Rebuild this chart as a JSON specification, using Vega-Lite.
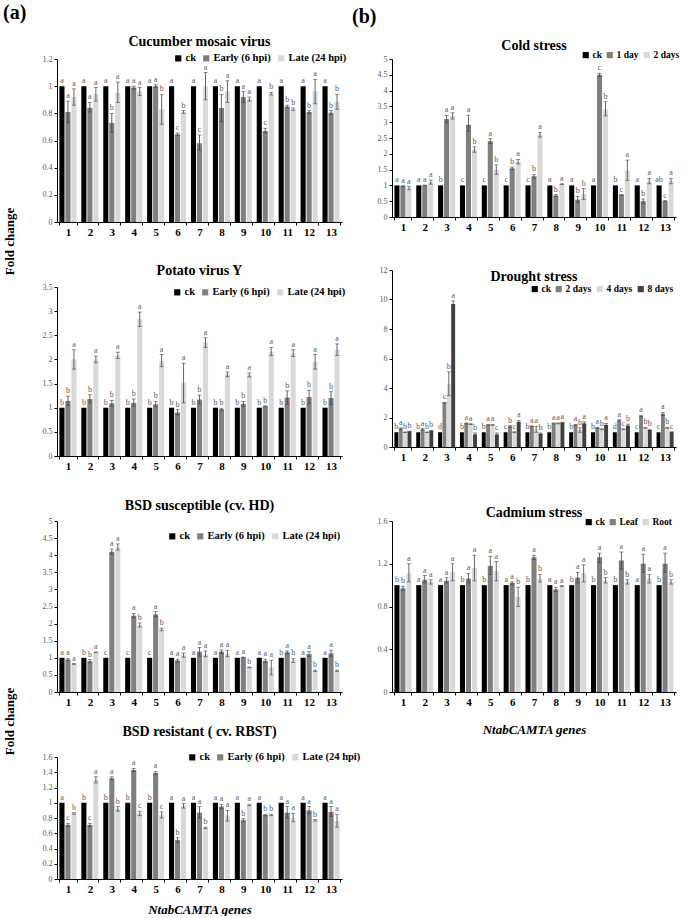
{
"$schema": "https://vega.github.io/schema/vega-lite/v6.json",
"padding": {"left": 3, "top": 3, "right": 2, "bottom": 0},
"config": {
 "font": "Liberation Serif",
 "view": {"stroke": null},
 "axis": {"grid": false, "domainColor": "#000000", "tickColor": "#000000", "labelColor": "#595959", "labelFontSize": 8, "titleColor": "#000000", "labelFont": "Liberation Serif", "titleFont": "Liberation Serif"},
 "axisX": {"labelFontSize": 11, "labelFontWeight": "bold", "labelColor": "#000000", "labelAngle": 0, "tickBand": "extent", "tickSize": 3, "labelPadding": 1, "titleFontSize": 13, "titleFontWeight": "bold", "titleFontStyle": "italic"},
 "axisY": {"tickSize": 3, "labelPadding": 2, "labelOverlap": false},
 "title": {"fontSize": 14, "fontWeight": "bold", "color": "#000000", "anchor": "middle", "font": "Liberation Serif"},
 "text": {"font": "Liberation Serif"},
 "legend": {"orient": "none", "direction": "horizontal", "labelFont": "Liberation Serif", "labelFontSize": 10.5, "labelFontWeight": "bold", "labelColor": "#000000", "symbolType": "square", "symbolSize": 38, "columnPadding": 5, "padding": 0, "symbolStrokeWidth": 0, "labelOffset": 2}
},
"datasets": {
"cmv": [
{"g":1,"t":"ck","v":1,"lo":1,"hi":1,"l":"a"},{"g":1,"t":"Early (6 hpi)","v":0.81,"lo":0.73,"hi":0.89,"l":"a"},{"g":1,"t":"Late (24 hpi)","v":0.92,"lo":0.86,"hi":0.98,"l":"a"},
{"g":2,"t":"ck","v":1,"lo":1,"hi":1,"l":"a"},{"g":2,"t":"Early (6 hpi)","v":0.84,"lo":0.81,"hi":0.88,"l":"a"},{"g":2,"t":"Late (24 hpi)","v":0.94,"lo":0.89,"hi":0.99,"l":"a"},
{"g":3,"t":"ck","v":1,"lo":1,"hi":1,"l":"a"},{"g":3,"t":"Early (6 hpi)","v":0.73,"lo":0.66,"hi":0.8,"l":"b"},{"g":3,"t":"Late (24 hpi)","v":0.95,"lo":0.88,"hi":1.03,"l":"a"},
{"g":4,"t":"ck","v":1,"lo":1,"hi":1,"l":"a"},{"g":4,"t":"Early (6 hpi)","v":0.99,"lo":0.98,"hi":1.0,"l":"a"},{"g":4,"t":"Late (24 hpi)","v":0.96,"lo":0.93,"hi":0.99,"l":"a"},
{"g":5,"t":"ck","v":1,"lo":1,"hi":1,"l":"a"},{"g":5,"t":"Early (6 hpi)","v":1.0,"lo":0.99,"hi":1.01,"l":"a"},{"g":5,"t":"Late (24 hpi)","v":0.83,"lo":0.72,"hi":0.94,"l":"b"},
{"g":6,"t":"ck","v":1,"lo":1,"hi":1,"l":"a"},{"g":6,"t":"Early (6 hpi)","v":0.645,"lo":0.635,"hi":0.655,"l":"c"},{"g":6,"t":"Late (24 hpi)","v":0.81,"lo":0.8,"hi":0.82,"l":"b"},
{"g":7,"t":"ck","v":1,"lo":1,"hi":1,"l":"a"},{"g":7,"t":"Early (6 hpi)","v":0.58,"lo":0.53,"hi":0.64,"l":"c"},{"g":7,"t":"Late (24 hpi)","v":1.0,"lo":0.9,"hi":1.1,"l":"a"},
{"g":8,"t":"ck","v":1,"lo":1,"hi":1,"l":"a"},{"g":8,"t":"Early (6 hpi)","v":0.84,"lo":0.74,"hi":0.94,"l":"b"},{"g":8,"t":"Late (24 hpi)","v":0.96,"lo":0.88,"hi":1.04,"l":"a"},
{"g":9,"t":"ck","v":1,"lo":1,"hi":1,"l":"a"},{"g":9,"t":"Early (6 hpi)","v":0.92,"lo":0.88,"hi":0.96,"l":"a"},{"g":9,"t":"Late (24 hpi)","v":0.905,"lo":0.89,"hi":0.92,"l":"a"},
{"g":10,"t":"ck","v":1,"lo":1,"hi":1,"l":"a"},{"g":10,"t":"Early (6 hpi)","v":0.67,"lo":0.655,"hi":0.69,"l":"c"},{"g":10,"t":"Late (24 hpi)","v":0.945,"lo":0.935,"hi":0.955,"l":"b"},
{"g":11,"t":"ck","v":1,"lo":1,"hi":1,"l":"a"},{"g":11,"t":"Early (6 hpi)","v":0.85,"lo":0.84,"hi":0.86,"l":"b"},{"g":11,"t":"Late (24 hpi)","v":0.83,"lo":0.82,"hi":0.84,"l":"b"},
{"g":12,"t":"ck","v":1,"lo":1,"hi":1,"l":"a"},{"g":12,"t":"Early (6 hpi)","v":0.81,"lo":0.8,"hi":0.82,"l":"b"},{"g":12,"t":"Late (24 hpi)","v":0.96,"lo":0.87,"hi":1.05,"l":"a"},
{"g":13,"t":"ck","v":1,"lo":1,"hi":1,"l":"a"},{"g":13,"t":"Early (6 hpi)","v":0.805,"lo":0.79,"hi":0.82,"l":"b"},{"g":13,"t":"Late (24 hpi)","v":0.885,"lo":0.83,"hi":0.94,"l":"b"}
],
"pvy": [
{"g":1,"t":"ck","v":1,"lo":1,"hi":1,"l":"b"},{"g":1,"t":"Early (6 hpi)","v":1.14,"lo":1.05,"hi":1.24,"l":"b"},{"g":1,"t":"Late (24 hpi)","v":2.0,"lo":1.8,"hi":2.2,"l":"a"},
{"g":2,"t":"ck","v":1,"lo":1,"hi":1,"l":"b"},{"g":2,"t":"Early (6 hpi)","v":1.18,"lo":1.1,"hi":1.27,"l":"b"},{"g":2,"t":"Late (24 hpi)","v":2.0,"lo":1.93,"hi":2.07,"l":"a"},
{"g":3,"t":"ck","v":1,"lo":1,"hi":1,"l":"b"},{"g":3,"t":"Early (6 hpi)","v":1.09,"lo":1.03,"hi":1.15,"l":"b"},{"g":3,"t":"Late (24 hpi)","v":2.08,"lo":2.02,"hi":2.15,"l":"a"},
{"g":4,"t":"ck","v":1,"lo":1,"hi":1,"l":"b"},{"g":4,"t":"Early (6 hpi)","v":1.1,"lo":1.03,"hi":1.18,"l":"b"},{"g":4,"t":"Late (24 hpi)","v":2.83,"lo":2.68,"hi":2.98,"l":"a"},
{"g":5,"t":"ck","v":1,"lo":1,"hi":1,"l":"b"},{"g":5,"t":"Early (6 hpi)","v":1.07,"lo":1.02,"hi":1.13,"l":"b"},{"g":5,"t":"Late (24 hpi)","v":1.97,"lo":1.85,"hi":2.1,"l":"a"},
{"g":6,"t":"ck","v":1,"lo":1,"hi":1,"l":"b"},{"g":6,"t":"Early (6 hpi)","v":0.9,"lo":0.85,"hi":0.96,"l":"b"},{"g":6,"t":"Late (24 hpi)","v":1.52,"lo":1.1,"hi":1.92,"l":"a"},
{"g":7,"t":"ck","v":1,"lo":1,"hi":1,"l":"b"},{"g":7,"t":"Early (6 hpi)","v":1.17,"lo":1.08,"hi":1.26,"l":"b"},{"g":7,"t":"Late (24 hpi)","v":2.35,"lo":2.25,"hi":2.45,"l":"a"},
{"g":8,"t":"ck","v":1,"lo":1,"hi":1,"l":"b"},{"g":8,"t":"Early (6 hpi)","v":0.97,"lo":0.95,"hi":0.99,"l":"b"},{"g":8,"t":"Late (24 hpi)","v":1.69,"lo":1.64,"hi":1.74,"l":"a"},
{"g":9,"t":"ck","v":1,"lo":1,"hi":1,"l":"b"},{"g":9,"t":"Early (6 hpi)","v":1.08,"lo":1.03,"hi":1.13,"l":"b"},{"g":9,"t":"Late (24 hpi)","v":1.68,"lo":1.64,"hi":1.72,"l":"a"},
{"g":10,"t":"ck","v":1,"lo":1,"hi":1,"l":"b"},{"g":10,"t":"Early (6 hpi)","v":1.03,"lo":1.02,"hi":1.04,"l":"b"},{"g":10,"t":"Late (24 hpi)","v":2.16,"lo":2.08,"hi":2.25,"l":"a"},
{"g":11,"t":"ck","v":1,"lo":1,"hi":1,"l":"b"},{"g":11,"t":"Early (6 hpi)","v":1.21,"lo":1.07,"hi":1.35,"l":"b"},{"g":11,"t":"Late (24 hpi)","v":2.13,"lo":2.06,"hi":2.2,"l":"a"},
{"g":12,"t":"ck","v":1,"lo":1,"hi":1,"l":"b"},{"g":12,"t":"Early (6 hpi)","v":1.22,"lo":1.08,"hi":1.36,"l":"b"},{"g":12,"t":"Late (24 hpi)","v":1.95,"lo":1.8,"hi":2.1,"l":"a"},
{"g":13,"t":"ck","v":1,"lo":1,"hi":1,"l":"b"},{"g":13,"t":"Early (6 hpi)","v":1.2,"lo":1.07,"hi":1.33,"l":"b"},{"g":13,"t":"Late (24 hpi)","v":2.2,"lo":2.08,"hi":2.32,"l":"a"}
],
"bsds": [
{"g":1,"t":"ck","v":1,"lo":1,"hi":1,"l":"a"},{"g":1,"t":"Early (6 hpi)","v":0.95,"lo":0.92,"hi":0.98,"l":"a"},{"g":1,"t":"Late (24 hpi)","v":0.82,"lo":0.81,"hi":0.83,"l":"a"},
{"g":2,"t":"ck","v":1,"lo":1,"hi":1,"l":"b"},{"g":2,"t":"Early (6 hpi)","v":0.9,"lo":0.85,"hi":0.95,"l":"b"},{"g":2,"t":"Late (24 hpi)","v":1.16,"lo":1.15,"hi":1.17,"l":"a"},
{"g":3,"t":"ck","v":1,"lo":1,"hi":1,"l":"c"},{"g":3,"t":"Early (6 hpi)","v":4.1,"lo":4.03,"hi":4.18,"l":"a"},{"g":3,"t":"Late (24 hpi)","v":4.23,"lo":4.15,"hi":4.33,"l":"a"},
{"g":4,"t":"ck","v":1,"lo":1,"hi":1,"l":"c"},{"g":4,"t":"Early (6 hpi)","v":2.23,"lo":2.17,"hi":2.3,"l":"a"},{"g":4,"t":"Late (24 hpi)","v":1.95,"lo":1.9,"hi":2.02,"l":"b"},
{"g":5,"t":"ck","v":1,"lo":1,"hi":1,"l":"c"},{"g":5,"t":"Early (6 hpi)","v":2.27,"lo":2.2,"hi":2.35,"l":"a"},{"g":5,"t":"Late (24 hpi)","v":1.83,"lo":1.79,"hi":1.87,"l":"b"},
{"g":6,"t":"ck","v":1,"lo":1,"hi":1,"l":"a"},{"g":6,"t":"Early (6 hpi)","v":0.92,"lo":0.88,"hi":0.96,"l":"a"},{"g":6,"t":"Late (24 hpi)","v":1.08,"lo":1.02,"hi":1.14,"l":"a"},
{"g":7,"t":"ck","v":1,"lo":1,"hi":1,"l":"a"},{"g":7,"t":"Early (6 hpi)","v":1.18,"lo":1.05,"hi":1.3,"l":"a"},{"g":7,"t":"Late (24 hpi)","v":1.1,"lo":1.03,"hi":1.2,"l":"a"},
{"g":8,"t":"ck","v":1,"lo":1,"hi":1,"l":"a"},{"g":8,"t":"Early (6 hpi)","v":1.18,"lo":1.13,"hi":1.23,"l":"a"},{"g":8,"t":"Late (24 hpi)","v":1.12,"lo":1.03,"hi":1.22,"l":"a"},
{"g":9,"t":"ck","v":1,"lo":1,"hi":1,"l":"a"},{"g":9,"t":"Early (6 hpi)","v":1.01,"lo":1.0,"hi":1.02,"l":"a"},{"g":9,"t":"Late (24 hpi)","v":0.72,"lo":0.71,"hi":0.73,"l":"b"},
{"g":10,"t":"ck","v":1,"lo":1,"hi":1,"l":"a"},{"g":10,"t":"Early (6 hpi)","v":0.91,"lo":0.86,"hi":0.96,"l":"a"},{"g":10,"t":"Late (24 hpi)","v":0.72,"lo":0.5,"hi":0.93,"l":"a"},
{"g":11,"t":"ck","v":1,"lo":1,"hi":1,"l":"b"},{"g":11,"t":"Early (6 hpi)","v":1.16,"lo":1.12,"hi":1.2,"l":"a"},{"g":11,"t":"Late (24 hpi)","v":0.92,"lo":0.86,"hi":0.98,"l":"b"},
{"g":12,"t":"ck","v":1,"lo":1,"hi":1,"l":"a"},{"g":12,"t":"Early (6 hpi)","v":1.11,"lo":1.04,"hi":1.18,"l":"a"},{"g":12,"t":"Late (24 hpi)","v":0.62,"lo":0.6,"hi":0.64,"l":"b"},
{"g":13,"t":"ck","v":1,"lo":1,"hi":1,"l":"a"},{"g":13,"t":"Early (6 hpi)","v":1.13,"lo":1.05,"hi":1.22,"l":"a"},{"g":13,"t":"Late (24 hpi)","v":0.62,"lo":0.6,"hi":0.64,"l":"b"}
],
"bsdr": [
{"g":1,"t":"ck","v":1,"lo":1,"hi":1,"l":"a"},{"g":1,"t":"Early (6 hpi)","v":0.71,"lo":0.69,"hi":0.73,"l":"c"},{"g":1,"t":"Late (24 hpi)","v":0.86,"lo":0.85,"hi":0.87,"l":"b"},
{"g":2,"t":"ck","v":1,"lo":1,"hi":1,"l":"b"},{"g":2,"t":"Early (6 hpi)","v":0.71,"lo":0.69,"hi":0.73,"l":"c"},{"g":2,"t":"Late (24 hpi)","v":1.3,"lo":1.26,"hi":1.34,"l":"a"},
{"g":3,"t":"ck","v":1,"lo":1,"hi":1,"l":"b"},{"g":3,"t":"Early (6 hpi)","v":1.32,"lo":1.3,"hi":1.34,"l":"a"},{"g":3,"t":"Late (24 hpi)","v":0.92,"lo":0.89,"hi":0.95,"l":"b"},
{"g":4,"t":"ck","v":1,"lo":1,"hi":1,"l":"b"},{"g":4,"t":"Early (6 hpi)","v":1.43,"lo":1.41,"hi":1.45,"l":"a"},{"g":4,"t":"Late (24 hpi)","v":0.86,"lo":0.83,"hi":0.89,"l":"c"},
{"g":5,"t":"ck","v":1,"lo":1,"hi":1,"l":"b"},{"g":5,"t":"Early (6 hpi)","v":1.39,"lo":1.37,"hi":1.41,"l":"a"},{"g":5,"t":"Late (24 hpi)","v":0.84,"lo":0.8,"hi":0.88,"l":"c"},
{"g":6,"t":"ck","v":1,"lo":1,"hi":1,"l":"a"},{"g":6,"t":"Early (6 hpi)","v":0.51,"lo":0.48,"hi":0.54,"l":"b"},{"g":6,"t":"Late (24 hpi)","v":0.96,"lo":0.93,"hi":0.99,"l":"a"},
{"g":7,"t":"ck","v":1,"lo":1,"hi":1,"l":"a"},{"g":7,"t":"Early (6 hpi)","v":0.87,"lo":0.8,"hi":0.95,"l":"a"},{"g":7,"t":"Late (24 hpi)","v":0.67,"lo":0.66,"hi":0.68,"l":"b"},
{"g":8,"t":"ck","v":1,"lo":1,"hi":1,"l":"a"},{"g":8,"t":"Early (6 hpi)","v":0.95,"lo":0.92,"hi":0.98,"l":"a"},{"g":8,"t":"Late (24 hpi)","v":0.83,"lo":0.76,"hi":0.9,"l":"a"},
{"g":9,"t":"ck","v":1,"lo":1,"hi":1,"l":"a"},{"g":9,"t":"Early (6 hpi)","v":0.77,"lo":0.75,"hi":0.79,"l":"b"},{"g":9,"t":"Late (24 hpi)","v":0.97,"lo":0.96,"hi":0.98,"l":"a"},
{"g":10,"t":"ck","v":1,"lo":1,"hi":1,"l":"a"},{"g":10,"t":"Early (6 hpi)","v":0.84,"lo":0.83,"hi":0.85,"l":"b"},{"g":10,"t":"Late (24 hpi)","v":0.84,"lo":0.83,"hi":0.85,"l":"b"},
{"g":11,"t":"ck","v":1,"lo":1,"hi":1,"l":"a"},{"g":11,"t":"Early (6 hpi)","v":0.87,"lo":0.8,"hi":0.95,"l":"a"},{"g":11,"t":"Late (24 hpi)","v":0.8,"lo":0.75,"hi":0.86,"l":"a"},
{"g":12,"t":"ck","v":1,"lo":1,"hi":1,"l":"a"},{"g":12,"t":"Early (6 hpi)","v":0.9,"lo":0.86,"hi":0.95,"l":"a"},{"g":12,"t":"Late (24 hpi)","v":0.77,"lo":0.76,"hi":0.78,"l":"b"},
{"g":13,"t":"ck","v":1,"lo":1,"hi":1,"l":"a"},{"g":13,"t":"Early (6 hpi)","v":0.88,"lo":0.82,"hi":0.95,"l":"a"},{"g":13,"t":"Late (24 hpi)","v":0.76,"lo":0.68,"hi":0.85,"l":"a"}
],
"cold": [
{"g":1,"t":"ck","v":1,"lo":1,"hi":1,"l":"a"},{"g":1,"t":"1 day","v":0.98,"lo":0.97,"hi":0.99,"l":"a"},{"g":1,"t":"2 days","v":0.91,"lo":0.86,"hi":0.96,"l":"a"},
{"g":2,"t":"ck","v":1,"lo":1,"hi":1,"l":"a"},{"g":2,"t":"1 day","v":1.0,"lo":0.99,"hi":1.01,"l":"a"},{"g":2,"t":"2 days","v":1.1,"lo":1.04,"hi":1.17,"l":"a"},
{"g":3,"t":"ck","v":1,"lo":1,"hi":1,"l":"b"},{"g":3,"t":"1 day","v":3.1,"lo":2.98,"hi":3.22,"l":"a"},{"g":3,"t":"2 days","v":3.2,"lo":3.1,"hi":3.3,"l":"a"},
{"g":4,"t":"ck","v":1,"lo":1,"hi":1,"l":"c"},{"g":4,"t":"1 day","v":2.92,"lo":2.72,"hi":3.22,"l":"a"},{"g":4,"t":"2 days","v":2.13,"lo":2.05,"hi":2.22,"l":"b"},
{"g":5,"t":"ck","v":1,"lo":1,"hi":1,"l":"c"},{"g":5,"t":"1 day","v":2.4,"lo":2.33,"hi":2.48,"l":"a"},{"g":5,"t":"2 days","v":1.5,"lo":1.35,"hi":1.65,"l":"b"},
{"g":6,"t":"ck","v":1,"lo":1,"hi":1,"l":"c"},{"g":6,"t":"1 day","v":1.54,"lo":1.5,"hi":1.58,"l":"b"},{"g":6,"t":"2 days","v":1.75,"lo":1.68,"hi":1.82,"l":"a"},
{"g":7,"t":"ck","v":1,"lo":1,"hi":1,"l":"c"},{"g":7,"t":"1 day","v":1.29,"lo":1.23,"hi":1.35,"l":"b"},{"g":7,"t":"2 days","v":2.6,"lo":2.53,"hi":2.68,"l":"a"},
{"g":8,"t":"ck","v":1,"lo":1,"hi":1,"l":"a"},{"g":8,"t":"1 day","v":0.68,"lo":0.65,"hi":0.71,"l":"b"},{"g":8,"t":"2 days","v":1.04,"lo":1.03,"hi":1.05,"l":"a"},
{"g":9,"t":"ck","v":1,"lo":1,"hi":1,"l":"a"},{"g":9,"t":"1 day","v":0.55,"lo":0.45,"hi":0.65,"l":"b"},{"g":9,"t":"2 days","v":0.72,"lo":0.55,"hi":0.9,"l":"b"},
{"g":10,"t":"ck","v":1,"lo":1,"hi":1,"l":"a"},{"g":10,"t":"1 day","v":4.5,"lo":4.45,"hi":4.55,"l":"c"},{"g":10,"t":"2 days","v":3.4,"lo":3.2,"hi":3.65,"l":"b"},
{"g":11,"t":"ck","v":1,"lo":1,"hi":1,"l":"b"},{"g":11,"t":"1 day","v":0.7,"lo":0.69,"hi":0.71,"l":"c"},{"g":11,"t":"2 days","v":1.47,"lo":1.15,"hi":1.8,"l":"a"},
{"g":12,"t":"ck","v":1,"lo":1,"hi":1,"l":"a"},{"g":12,"t":"1 day","v":0.5,"lo":0.43,"hi":0.57,"l":"b"},{"g":12,"t":"2 days","v":1.13,"lo":1.05,"hi":1.22,"l":"a"},
{"g":13,"t":"ck","v":1,"lo":1,"hi":1,"l":"ab"},{"g":13,"t":"1 day","v":0.5,"lo":0.49,"hi":0.52,"l":"c"},{"g":13,"t":"2 days","v":1.13,"lo":1.05,"hi":1.22,"l":"a"}
],
"drought": [
{"g":1,"t":"ck","v":1,"lo":1,"hi":1,"l":"b"},{"g":1,"t":"2 days","v":1.25,"lo":1.2,"hi":1.3,"l":"a"},{"g":1,"t":"4 days","v":1.0,"lo":0.98,"hi":1.02,"l":"b"},{"g":1,"t":"8 days","v":1.05,"lo":1.03,"hi":1.07,"l":"b"},
{"g":2,"t":"ck","v":1,"lo":1,"hi":1,"l":"b"},{"g":2,"t":"2 days","v":1.2,"lo":1.15,"hi":1.25,"l":"a"},{"g":2,"t":"4 days","v":1.0,"lo":0.98,"hi":1.02,"l":"b"},{"g":2,"t":"8 days","v":1.1,"lo":1.07,"hi":1.13,"l":"b"},
{"g":3,"t":"ck","v":1,"lo":1,"hi":1,"l":"d"},{"g":3,"t":"2 days","v":3.0,"lo":2.97,"hi":3.03,"l":"c"},{"g":3,"t":"4 days","v":4.3,"lo":3.5,"hi":5.1,"l":"b"},{"g":3,"t":"8 days","v":9.7,"lo":9.5,"hi":9.9,"l":"a"},
{"g":4,"t":"ck","v":1,"lo":1,"hi":1,"l":"b"},{"g":4,"t":"2 days","v":1.6,"lo":1.57,"hi":1.63,"l":"a"},{"g":4,"t":"4 days","v":1.55,"lo":1.52,"hi":1.58,"l":"a"},{"g":4,"t":"8 days","v":0.85,"lo":0.75,"hi":0.95,"l":"b"},
{"g":5,"t":"ck","v":1,"lo":1,"hi":1,"l":"b"},{"g":5,"t":"2 days","v":1.5,"lo":1.47,"hi":1.53,"l":"a"},{"g":5,"t":"4 days","v":1.5,"lo":1.47,"hi":1.53,"l":"a"},{"g":5,"t":"8 days","v":0.85,"lo":0.75,"hi":0.95,"l":"c"},
{"g":6,"t":"ck","v":1,"lo":1,"hi":1,"l":"c"},{"g":6,"t":"2 days","v":1.4,"lo":1.35,"hi":1.45,"l":"b"},{"g":6,"t":"4 days","v":1.0,"lo":0.97,"hi":1.03,"l":"c"},{"g":6,"t":"8 days","v":1.7,"lo":1.6,"hi":1.8,"l":"a"},
{"g":7,"t":"ck","v":1,"lo":1,"hi":1,"l":"b"},{"g":7,"t":"2 days","v":1.4,"lo":1.37,"hi":1.43,"l":"a"},{"g":7,"t":"4 days","v":1.2,"lo":1.0,"hi":1.4,"l":"a"},{"g":7,"t":"8 days","v":0.9,"lo":0.85,"hi":0.95,"l":"b"},
{"g":8,"t":"ck","v":1,"lo":1,"hi":1,"l":"b"},{"g":8,"t":"2 days","v":1.6,"lo":1.57,"hi":1.63,"l":"a"},{"g":8,"t":"4 days","v":1.6,"lo":1.57,"hi":1.63,"l":"a"},{"g":8,"t":"8 days","v":1.65,"lo":1.62,"hi":1.68,"l":"a"},
{"g":9,"t":"ck","v":1,"lo":1,"hi":1,"l":"b"},{"g":9,"t":"2 days","v":1.5,"lo":1.47,"hi":1.53,"l":"a"},{"g":9,"t":"4 days","v":1.15,"lo":1.0,"hi":1.3,"l":"b"},{"g":9,"t":"8 days","v":1.6,"lo":1.5,"hi":1.7,"l":"a"},
{"g":10,"t":"ck","v":1,"lo":1,"hi":1,"l":"b"},{"g":10,"t":"2 days","v":1.3,"lo":1.27,"hi":1.33,"l":"a"},{"g":10,"t":"4 days","v":1.2,"lo":1.17,"hi":1.23,"l":"b"},{"g":10,"t":"8 days","v":1.5,"lo":1.4,"hi":1.6,"l":"a"},
{"g":11,"t":"ck","v":1,"lo":1,"hi":1,"l":"d"},{"g":11,"t":"2 days","v":1.8,"lo":1.75,"hi":1.85,"l":"a"},{"g":11,"t":"4 days","v":1.2,"lo":1.17,"hi":1.23,"l":"c"},{"g":11,"t":"8 days","v":1.45,"lo":1.35,"hi":1.55,"l":"b"},
{"g":12,"t":"ck","v":1,"lo":1,"hi":1,"l":"c"},{"g":12,"t":"2 days","v":2.1,"lo":2.05,"hi":2.15,"l":"a"},{"g":12,"t":"4 days","v":1.3,"lo":1.27,"hi":1.33,"l":"b"},{"g":12,"t":"8 days","v":1.15,"lo":1.1,"hi":1.2,"l":"b"},
{"g":13,"t":"ck","v":1,"lo":1,"hi":1,"l":"c"},{"g":13,"t":"2 days","v":2.25,"lo":2.15,"hi":2.35,"l":"a"},{"g":13,"t":"4 days","v":1.3,"lo":1.27,"hi":1.33,"l":"b"},{"g":13,"t":"8 days","v":1.0,"lo":0.97,"hi":1.03,"l":"c"}
],
"cd": [
{"g":1,"t":"ck","v":1,"lo":1,"hi":1,"l":"b"},{"g":1,"t":"Leaf","v":0.97,"lo":0.95,"hi":0.99,"l":"b"},{"g":1,"t":"Root","v":1.11,"lo":1.03,"hi":1.2,"l":"a"},
{"g":2,"t":"ck","v":1,"lo":1,"hi":1,"l":"a"},{"g":2,"t":"Leaf","v":1.05,"lo":1.02,"hi":1.09,"l":"a"},{"g":2,"t":"Root","v":1.03,"lo":1.01,"hi":1.05,"l":"a"},
{"g":3,"t":"ck","v":1,"lo":1,"hi":1,"l":"a"},{"g":3,"t":"Leaf","v":1.04,"lo":1.02,"hi":1.07,"l":"a"},{"g":3,"t":"Root","v":1.12,"lo":1.04,"hi":1.2,"l":"a"},
{"g":4,"t":"ck","v":1,"lo":1,"hi":1,"l":"b"},{"g":4,"t":"Leaf","v":1.06,"lo":1.02,"hi":1.11,"l":"a"},{"g":4,"t":"Root","v":1.16,"lo":1.04,"hi":1.28,"l":"a"},
{"g":5,"t":"ck","v":1,"lo":1,"hi":1,"l":"b"},{"g":5,"t":"Leaf","v":1.18,"lo":1.1,"hi":1.27,"l":"a"},{"g":5,"t":"Root","v":1.13,"lo":1.04,"hi":1.22,"l":"a"},
{"g":6,"t":"ck","v":1,"lo":1,"hi":1,"l":"a"},{"g":6,"t":"Leaf","v":1.02,"lo":1.0,"hi":1.03,"l":"a"},{"g":6,"t":"Root","v":0.89,"lo":0.8,"hi":0.98,"l":"b"},
{"g":7,"t":"ck","v":1,"lo":1,"hi":1,"l":"b"},{"g":7,"t":"Leaf","v":1.26,"lo":1.24,"hi":1.28,"l":"a"},{"g":7,"t":"Root","v":1.06,"lo":1.03,"hi":1.1,"l":"b"},
{"g":8,"t":"ck","v":1,"lo":1,"hi":1,"l":"a"},{"g":8,"t":"Leaf","v":0.96,"lo":0.94,"hi":0.98,"l":"a"},{"g":8,"t":"Root","v":0.99,"lo":0.985,"hi":0.995,"l":"a"},
{"g":9,"t":"ck","v":1,"lo":1,"hi":1,"l":"b"},{"g":9,"t":"Leaf","v":1.07,"lo":1.02,"hi":1.12,"l":"a"},{"g":9,"t":"Root","v":1.11,"lo":1.03,"hi":1.19,"l":"a"},
{"g":10,"t":"ck","v":1,"lo":1,"hi":1,"l":"b"},{"g":10,"t":"Leaf","v":1.26,"lo":1.21,"hi":1.3,"l":"a"},{"g":10,"t":"Root","v":1.04,"lo":1.02,"hi":1.07,"l":"b"},
{"g":11,"t":"ck","v":1,"lo":1,"hi":1,"l":"b"},{"g":11,"t":"Leaf","v":1.23,"lo":1.15,"hi":1.31,"l":"a"},{"g":11,"t":"Root","v":1.03,"lo":1.01,"hi":1.05,"l":"b"},
{"g":12,"t":"ck","v":1,"lo":1,"hi":1,"l":"a"},{"g":12,"t":"Leaf","v":1.2,"lo":1.12,"hi":1.29,"l":"a"},{"g":12,"t":"Root","v":1.06,"lo":1.02,"hi":1.1,"l":"a"},
{"g":13,"t":"ck","v":1,"lo":1,"hi":1,"l":"b"},{"g":13,"t":"Leaf","v":1.2,"lo":1.12,"hi":1.3,"l":"a"},{"g":13,"t":"Root","v":1.03,"lo":1.01,"hi":1.05,"l":"b"}
]
},
"resolve": {"scale": {"color": "independent", "x": "independent", "y": "independent", "xOffset": "independent"}, "legend": {"color": "independent"}, "axis": {"x": "independent", "y": "independent"}},
"spacing": -9,
"hconcat": [
{
 "title": {"text": "(a)", "anchor": "start", "fontSize": 20, "offset": 12},
 "bounds": "flush",
 "spacing": 65,
 "resolve": {"scale": {"color": "independent", "x": "independent", "y": "independent", "xOffset": "independent"}, "legend": {"color": "independent"}, "axis": {"x": "independent", "y": "independent"}},
 "vconcat": [
  {
   "width": 285, "height": 163,
   "title": {"text": "Cucumber mosaic virus", "offset": 4},
   "data": {"name": "cmv"},
   "resolve": {"axis": {"y": "independent"}},
   "encoding": {
    "x": {"field": "g", "type": "ordinal", "title": null, "scale": {"paddingInner": 0.22, "paddingOuter": 0.11}},
    "xOffset": {"field": "t", "type": "nominal", "sort": ["ck", "Early (6 hpi)", "Late (24 hpi)"], "scale": {"paddingInner": 0.15}}
   },
   "layer": [
    {"mark": {"type": "bar"}, "encoding": {
      "y": {"field": "v", "type": "quantitative", "scale": {"domain": [0, 1.2]}, "axis": {"values": [0, 0.2, 0.4, 0.6, 0.8, 1, 1.2], "format": ".1~f", "title": "Fold change", "titleAngle": 270, "titleX": -44, "titleY": 182, "titleAlign": "center", "titleBaseline": "alphabetic", "titleFontSize": 13, "titleFontWeight": "bold"}},
      "color": {"field": "t", "type": "nominal", "title": null, "scale": {"domain": ["ck", "Early (6 hpi)", "Late (24 hpi)"], "range": ["#000000", "#7f7f7f", "#d9d9d9"]}, "legend": {"legendX": 116, "legendY": -6}}}},
    {"transform": [{"filter": "datum.hi > datum.lo"}], "mark": {"type": "rule", "color": "#404040", "strokeWidth": 0.8}, "encoding": {"y": {"field": "lo", "type": "quantitative", "axis": null}, "y2": {"field": "hi"}}},
    {"transform": [{"filter": "datum.hi > datum.lo"}], "mark": {"type": "tick", "color": "#404040", "thickness": 0.8, "size": 4}, "encoding": {"y": {"field": "lo", "type": "quantitative", "axis": null}}},
    {"transform": [{"filter": "datum.hi > datum.lo"}], "mark": {"type": "tick", "color": "#404040", "thickness": 0.8, "size": 4}, "encoding": {"y": {"field": "hi", "type": "quantitative", "axis": null}}},
    {"mark": {"type": "text", "baseline": "bottom", "dy": -1, "fontSize": 8, "color": "#595959"}, "encoding": {"y": {"field": "hi", "type": "quantitative", "axis": null}, "text": {"field": "l"}}}
   ]
  },
  {
   "width": 285, "height": 169,
   "title": {"text": "Potato virus Y", "offset": 5},
   "data": {"name": "pvy"},
   "resolve": {"axis": {"y": "independent"}},
   "encoding": {
    "x": {"field": "g", "type": "ordinal", "title": null, "scale": {"paddingInner": 0.22, "paddingOuter": 0.11}},
    "xOffset": {"field": "t", "type": "nominal", "sort": ["ck", "Early (6 hpi)", "Late (24 hpi)"], "scale": {"paddingInner": 0.15}}
   },
   "layer": [
    {"mark": {"type": "bar"}, "encoding": {
      "y": {"field": "v", "type": "quantitative", "scale": {"domain": [0, 3.5]}, "axis": {"values": [0, 0.5, 1, 1.5, 2, 2.5, 3, 3.5], "format": ".1~f", "title": null}},
      "color": {"field": "t", "type": "nominal", "title": null, "scale": {"domain": ["ck", "Early (6 hpi)", "Late (24 hpi)"], "range": ["#000000", "#7f7f7f", "#d9d9d9"]}, "legend": {"legendX": 115, "legendY": 0}}}},
    {"transform": [{"filter": "datum.hi > datum.lo"}], "mark": {"type": "rule", "color": "#404040", "strokeWidth": 0.8}, "encoding": {"y": {"field": "lo", "type": "quantitative", "axis": null}, "y2": {"field": "hi"}}},
    {"transform": [{"filter": "datum.hi > datum.lo"}], "mark": {"type": "tick", "color": "#404040", "thickness": 0.8, "size": 4}, "encoding": {"y": {"field": "lo", "type": "quantitative", "axis": null}}},
    {"transform": [{"filter": "datum.hi > datum.lo"}], "mark": {"type": "tick", "color": "#404040", "thickness": 0.8, "size": 4}, "encoding": {"y": {"field": "hi", "type": "quantitative", "axis": null}}},
    {"mark": {"type": "text", "baseline": "bottom", "dy": -1, "fontSize": 8, "color": "#595959"}, "encoding": {"y": {"field": "hi", "type": "quantitative", "axis": null}, "text": {"field": "l"}}}
   ]
  },
  {
   "width": 285, "height": 171,
   "title": {"text": "BSD susceptible (cv. HD)", "offset": 4},
   "data": {"name": "bsds"},
   "resolve": {"axis": {"y": "independent"}},
   "encoding": {
    "x": {"field": "g", "type": "ordinal", "title": null, "scale": {"paddingInner": 0.22, "paddingOuter": 0.11}},
    "xOffset": {"field": "t", "type": "nominal", "sort": ["ck", "Early (6 hpi)", "Late (24 hpi)"], "scale": {"paddingInner": 0.15}}
   },
   "layer": [
    {"mark": {"type": "bar"}, "encoding": {
      "y": {"field": "v", "type": "quantitative", "scale": {"domain": [0, 5]}, "axis": {"values": [0, 0.5, 1, 1.5, 2, 2.5, 3, 3.5, 4, 4.5, 5], "format": ".1~f", "title": "Fold change", "titleAngle": 270, "titleX": -44, "titleY": 200, "titleAlign": "center", "titleBaseline": "alphabetic", "titleFontSize": 13, "titleFontWeight": "bold"}},
      "color": {"field": "t", "type": "nominal", "title": null, "scale": {"domain": ["ck", "Early (6 hpi)", "Late (24 hpi)"], "range": ["#000000", "#7f7f7f", "#d9d9d9"]}, "legend": {"legendX": 110, "legendY": 10}}}},
    {"transform": [{"filter": "datum.hi > datum.lo"}], "mark": {"type": "rule", "color": "#404040", "strokeWidth": 0.8}, "encoding": {"y": {"field": "lo", "type": "quantitative", "axis": null}, "y2": {"field": "hi"}}},
    {"transform": [{"filter": "datum.hi > datum.lo"}], "mark": {"type": "tick", "color": "#404040", "thickness": 0.8, "size": 4}, "encoding": {"y": {"field": "lo", "type": "quantitative", "axis": null}}},
    {"transform": [{"filter": "datum.hi > datum.lo"}], "mark": {"type": "tick", "color": "#404040", "thickness": 0.8, "size": 4}, "encoding": {"y": {"field": "hi", "type": "quantitative", "axis": null}}},
    {"mark": {"type": "text", "baseline": "bottom", "dy": -1, "fontSize": 8, "color": "#595959"}, "encoding": {"y": {"field": "hi", "type": "quantitative", "axis": null}, "text": {"field": "l"}}}
   ]
  },
  {
   "width": 285, "height": 122,
   "title": {"text": "BSD resistant ( cv. RBST)", "offset": 13},
   "data": {"name": "bsdr"},
   "resolve": {"axis": {"y": "independent"}},
   "encoding": {
    "x": {"field": "g", "type": "ordinal", "title": "NtabCAMTA genes", "axis": {"titlePadding": 9}, "scale": {"paddingInner": 0.22, "paddingOuter": 0.11}},
    "xOffset": {"field": "t", "type": "nominal", "sort": ["ck", "Early (6 hpi)", "Late (24 hpi)"], "scale": {"paddingInner": 0.15}}
   },
   "layer": [
    {"mark": {"type": "bar"}, "encoding": {
      "y": {"field": "v", "type": "quantitative", "scale": {"domain": [0, 1.6]}, "axis": {"values": [0, 0.2, 0.4, 0.6, 0.8, 1, 1.2, 1.4, 1.6], "format": ".1~f", "title": null}},
      "color": {"field": "t", "type": "nominal", "title": null, "scale": {"domain": ["ck", "Early (6 hpi)", "Late (24 hpi)"], "range": ["#000000", "#7f7f7f", "#d9d9d9"]}, "legend": {"legendX": 130, "legendY": -5}}}},
    {"transform": [{"filter": "datum.hi > datum.lo"}], "mark": {"type": "rule", "color": "#404040", "strokeWidth": 0.8}, "encoding": {"y": {"field": "lo", "type": "quantitative", "axis": null}, "y2": {"field": "hi"}}},
    {"transform": [{"filter": "datum.hi > datum.lo"}], "mark": {"type": "tick", "color": "#404040", "thickness": 0.8, "size": 4}, "encoding": {"y": {"field": "lo", "type": "quantitative", "axis": null}}},
    {"transform": [{"filter": "datum.hi > datum.lo"}], "mark": {"type": "tick", "color": "#404040", "thickness": 0.8, "size": 4}, "encoding": {"y": {"field": "hi", "type": "quantitative", "axis": null}}},
    {"mark": {"type": "text", "baseline": "bottom", "dy": -1, "fontSize": 8, "color": "#595959"}, "encoding": {"y": {"field": "hi", "type": "quantitative", "axis": null}, "text": {"field": "l"}}}
   ]
  }
 ]
},
{
 "title": {"text": "(b)", "anchor": "start", "fontSize": 20, "offset": 12, "dx": -25},
 "spacing": 34,
 "resolve": {"scale": {"color": "independent", "x": "independent", "y": "independent", "xOffset": "independent"}, "legend": {"color": "independent"}, "axis": {"x": "independent", "y": "independent"}},
 "vconcat": [
  {
   "width": 284, "height": 158,
   "title": {"text": "Cold stress", "offset": -3},
   "data": {"name": "cold"},
   "resolve": {"axis": {"y": "independent"}},
   "encoding": {
    "x": {"field": "g", "type": "ordinal", "title": null, "scale": {"paddingInner": 0.22, "paddingOuter": 0.11}},
    "xOffset": {"field": "t", "type": "nominal", "sort": ["ck", "1 day", "2 days"], "scale": {"paddingInner": 0.15}}
   },
   "layer": [
    {"mark": {"type": "bar"}, "encoding": {
      "y": {"field": "v", "type": "quantitative", "scale": {"domain": [0, 5]}, "axis": {"values": [0, 0.5, 1, 1.5, 2, 2.5, 3, 3.5, 4, 4.5, 5], "format": ".1~f", "title": null}},
      "color": {"field": "t", "type": "nominal", "title": null, "scale": {"domain": ["ck", "1 day", "2 days"], "range": ["#000000", "#7f7f7f", "#d9d9d9"]}, "legend": {"legendX": 189, "legendY": -9, "labelFontSize": 9.5, "columnPadding": 3}}}},
    {"transform": [{"filter": "datum.hi > datum.lo"}], "mark": {"type": "rule", "color": "#404040", "strokeWidth": 0.8}, "encoding": {"y": {"field": "lo", "type": "quantitative", "axis": null}, "y2": {"field": "hi"}}},
    {"transform": [{"filter": "datum.hi > datum.lo"}], "mark": {"type": "tick", "color": "#404040", "thickness": 0.8, "size": 4}, "encoding": {"y": {"field": "lo", "type": "quantitative", "axis": null}}},
    {"transform": [{"filter": "datum.hi > datum.lo"}], "mark": {"type": "tick", "color": "#404040", "thickness": 0.8, "size": 4}, "encoding": {"y": {"field": "hi", "type": "quantitative", "axis": null}}},
    {"mark": {"type": "text", "baseline": "bottom", "dy": -1, "fontSize": 8, "color": "#595959"}, "encoding": {"y": {"field": "hi", "type": "quantitative", "axis": null}, "text": {"field": "l"}}}
   ]
  },
  {
   "bounds": "flush",
   "spacing": 74,
   "resolve": {"scale": {"color": "independent", "x": "independent", "y": "independent", "xOffset": "independent"}, "legend": {"color": "independent"}, "axis": {"x": "independent", "y": "independent"}},
   "vconcat": [
    {
     "width": 284, "height": 177,
     "title": {"text": "Drought stress", "offset": -18},
     "data": {"name": "drought"},
     "resolve": {"axis": {"y": "independent"}},
     "encoding": {
      "x": {"field": "g", "type": "ordinal", "title": null, "scale": {"paddingInner": 0.22, "paddingOuter": 0.11}},
      "xOffset": {"field": "t", "type": "nominal", "sort": ["ck", "2 days", "4 days", "8 days"], "scale": {"paddingInner": 0.1}}
     },
     "layer": [
      {"mark": {"type": "bar"}, "encoding": {
        "y": {"field": "v", "type": "quantitative", "scale": {"domain": [0, 12]}, "axis": {"values": [0, 2, 4, 6, 8, 10, 12], "format": ".1~f", "title": null}},
        "color": {"field": "t", "type": "nominal", "title": null, "scale": {"domain": ["ck", "2 days", "4 days", "8 days"], "range": ["#000000", "#7f7f7f", "#d9d9d9", "#404040"]}, "legend": {"legendX": 138, "legendY": 14, "labelFontSize": 9.5, "columnPadding": 3}}}},
      {"transform": [{"filter": "datum.hi > datum.lo"}], "mark": {"type": "rule", "color": "#404040", "strokeWidth": 0.8}, "encoding": {"y": {"field": "lo", "type": "quantitative", "axis": null}, "y2": {"field": "hi"}}},
      {"transform": [{"filter": "datum.hi > datum.lo"}], "mark": {"type": "tick", "color": "#404040", "thickness": 0.8, "size": 4}, "encoding": {"y": {"field": "lo", "type": "quantitative", "axis": null}}},
      {"transform": [{"filter": "datum.hi > datum.lo"}], "mark": {"type": "tick", "color": "#404040", "thickness": 0.8, "size": 4}, "encoding": {"y": {"field": "hi", "type": "quantitative", "axis": null}}},
      {"mark": {"type": "text", "baseline": "bottom", "dy": -1, "fontSize": 8, "color": "#595959"}, "encoding": {"y": {"field": "hi", "type": "quantitative", "axis": null}, "text": {"field": "l"}}}
     ]
    },
    {
     "width": 284, "height": 171,
     "title": {"text": "Cadmium stress", "offset": -3},
     "data": {"name": "cd"},
     "resolve": {"axis": {"y": "independent"}},
     "encoding": {
      "x": {"field": "g", "type": "ordinal", "title": "NtabCAMTA genes", "axis": {"titlePadding": 16}, "scale": {"paddingInner": 0.22, "paddingOuter": 0.11}},
      "xOffset": {"field": "t", "type": "nominal", "sort": ["ck", "Leaf", "Root"], "scale": {"paddingInner": 0.15}}
     },
     "layer": [
      {"mark": {"type": "bar"}, "encoding": {
        "y": {"field": "v", "type": "quantitative", "scale": {"domain": [0, 1.6]}, "axis": {"values": [0, 0.4, 0.8, 1.2, 1.6], "format": ".1~f", "title": null}},
        "color": {"field": "t", "type": "nominal", "title": null, "scale": {"domain": ["ck", "Leaf", "Root"], "range": ["#000000", "#7f7f7f", "#d9d9d9"]}, "legend": {"legendX": 192, "legendY": -4, "labelFontSize": 9.5, "columnPadding": 3}}}},
      {"transform": [{"filter": "datum.hi > datum.lo"}], "mark": {"type": "rule", "color": "#404040", "strokeWidth": 0.8}, "encoding": {"y": {"field": "lo", "type": "quantitative", "axis": null}, "y2": {"field": "hi"}}},
      {"transform": [{"filter": "datum.hi > datum.lo"}], "mark": {"type": "tick", "color": "#404040", "thickness": 0.8, "size": 4}, "encoding": {"y": {"field": "lo", "type": "quantitative", "axis": null}}},
      {"transform": [{"filter": "datum.hi > datum.lo"}], "mark": {"type": "tick", "color": "#404040", "thickness": 0.8, "size": 4}, "encoding": {"y": {"field": "hi", "type": "quantitative", "axis": null}}},
      {"mark": {"type": "text", "baseline": "bottom", "dy": -1, "fontSize": 8, "color": "#595959"}, "encoding": {"y": {"field": "hi", "type": "quantitative", "axis": null}, "text": {"field": "l"}}}
     ]
    }
   ]
  }
 ]
}
]
}
